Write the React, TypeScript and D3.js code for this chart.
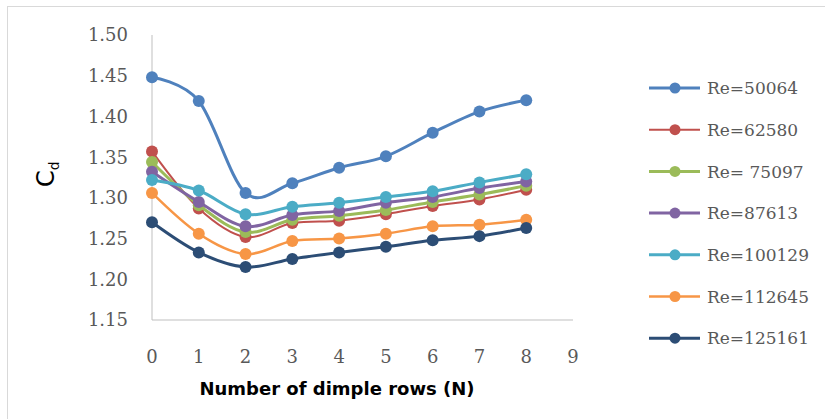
import React from "react";
import * as d3 from "d3";

const rows = [0, 1, 2, 3, 4, 5, 6, 7, 8];
const xTicks = [0, 1, 2, 3, 4, 5, 6, 7, 8, 9];
const yTicks = [1.15, 1.2, 1.25, 1.3, 1.35, 1.4, 1.45, 1.5];
const seriesNames = ["Re=50064", "Re=62580", "Re= 75097", "Re=87613", "Re=100129", "Re=112645", "Re=125161"];
const re50064 = [1.448, 1.419, 1.306, 1.318, 1.337, 1.351, 1.38, 1.406, 1.42];
const re62580 = [1.357, 1.287, 1.252, 1.269, 1.272, 1.28, 1.29, 1.298, 1.31];
const re75097 = [1.344, 1.291, 1.258, 1.273, 1.278, 1.285, 1.295, 1.304, 1.315];
const re87613 = [1.332, 1.295, 1.265, 1.279, 1.284, 1.294, 1.301, 1.312, 1.32];
const re100129 = [1.322, 1.309, 1.28, 1.289, 1.294, 1.301, 1.308, 1.319, 1.329];
const re112645 = [1.306, 1.256, 1.231, 1.247, 1.25, 1.256, 1.265, 1.267, 1.273];
const re125161 = [1.27, 1.233, 1.215, 1.225, 1.233, 1.24, 1.248, 1.253, 1.263];
const seriesValues = [re50064, re62580, re75097, re87613, re100129, re112645, re125161];
const colors = ["#4F81BD", "#C0504D", "#9BBB59", "#8064A2", "#4BACC6", "#F79646", "#2C4D75"];
const widths = [3, 2, 3, 3, 3, 2.5, 3];

export default function App() {
  const x = d3.scaleLinear().domain([0, 9]).range([152, 573]);
  const y = d3.scaleLinear().domain([1.15, 1.5]).range([320, 35]);
  const line = d3
    .line<number>()
    .x((_, i) => x(rows[i]))
    .y((v) => y(v))
    .curve(d3.curveCardinal.tension(0));
  const tickFont = "'DejaVu Serif', serif";
  return (
    <svg width={825} height={419} style={{ position: "absolute", left: 0, top: 0, background: "#fff" }}>
      <rect x={7.5} y={6.5} width={830} height={430} fill="#fff" stroke="#D9D9D9" strokeWidth={1} />
      <line x1={x(0)} x2={x(0)} y1={y(1.5)} y2={y(1.15)} stroke="#BFBFBF" strokeWidth={1} />
      <line x1={x(0)} x2={x(9)} y1={y(1.15)} y2={y(1.15)} stroke="#BFBFBF" strokeWidth={1} />
      {yTicks.map((t) => (
        <text key={t} x={128} y={y(t)} dy="0.36em" textAnchor="end" fontFamily={tickFont} fontSize={18} fill="#595959">
          {t.toFixed(2)}
        </text>
      ))}
      {xTicks.map((t) => (
        <text key={t} x={x(t)} y={357} dy="0.36em" textAnchor="middle" fontFamily={tickFont} fontSize={18} fill="#595959">
          {t}
        </text>
      ))}
      <text x={337} y={395} textAnchor="middle" fontFamily="'DejaVu Sans', sans-serif" fontWeight="bold" fontSize={18} fill="#000">
        Number of dimple rows (N)
      </text>
      <text transform="translate(54,187) rotate(-90)" fontFamily="'DejaVu Sans', sans-serif" fontSize={24} fill="#000">
        C<tspan fontSize={14} dy={5}>d</tspan>
      </text>
      {seriesValues.map((vals, si) => (
        <g key={si}>
          <path d={line(vals) || ""} fill="none" stroke={colors[si]} strokeWidth={widths[si]} />
          {vals.map((v, i) => (
            <circle key={i} cx={x(rows[i])} cy={y(v)} r={6} fill={colors[si]} />
          ))}
        </g>
      ))}
      {seriesNames.map((n, si) => {
        const ly = 88 + si * 41.7;
        return (
          <g key={n}>
            <line x1={649} x2={700} y1={ly} y2={ly} stroke={colors[si]} strokeWidth={widths[si]} />
            <circle cx={675} cy={ly} r={5.5} fill={colors[si]} />
            <text x={707} y={ly} dy="0.36em" fontFamily={tickFont} fontSize={17} fill="#595959">
              {n}
            </text>
          </g>
        );
      })}
    </svg>
  );
}
